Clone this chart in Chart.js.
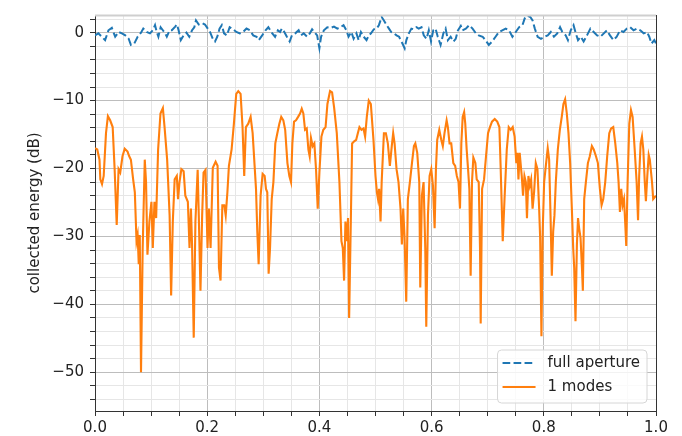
<!DOCTYPE html>
<html>
<head>
<meta charset="utf-8">
<script src="https://cdn.jsdelivr.net/npm/chart.js@4.4.1/dist/chart.umd.min.js"></script>
<style>
  body { margin: 0; background: #fff; }
  canvas { display: block; }
</style>
</head>
<body>
<canvas id="energyChart" width="682" height="436"></canvas>
<script>
// full aperture (dashed blue)
const blueX = [
  0.000, 0.006, 0.012, 0.018, 0.024, 0.030, 0.036, 0.042, 0.048, 0.054,
  0.060, 0.064, 0.070, 0.076, 0.082, 0.086, 0.092, 0.098, 0.103, 0.107,
  0.110, 0.113, 0.117, 0.121, 0.125, 0.128, 0.133, 0.137, 0.143, 0.146,
  0.149, 0.153, 0.158, 0.163, 0.168, 0.173, 0.177, 0.180, 0.185, 0.191,
  0.196, 0.201, 0.205, 0.210, 0.214, 0.218, 0.222, 0.226, 0.230, 0.235,
  0.240, 0.246, 0.252, 0.258, 0.264, 0.270, 0.276, 0.282, 0.288, 0.292,
  0.298, 0.304, 0.309, 0.316, 0.321, 0.326, 0.330, 0.333, 0.3375, 0.342,
  0.347, 0.351, 0.357, 0.363, 0.367, 0.372, 0.378, 0.383, 0.387, 0.391,
  0.396, 0.400, 0.403, 0.408, 0.414, 0.420, 0.426, 0.432, 0.4375, 0.443,
  0.448, 0.452, 0.457, 0.461, 0.466, 0.470, 0.474, 0.479, 0.484, 0.488,
  0.492, 0.497, 0.502, 0.506, 0.511, 0.515, 0.520, 0.524, 0.528, 0.533,
  0.5375, 0.542, 0.548, 0.552, 0.555, 0.5595, 0.564, 0.568, 0.573, 0.577,
  0.582, 0.586, 0.591, 0.595, 0.599, 0.603, 0.607, 0.611, 0.616, 0.621,
  0.625, 0.629, 0.634, 0.639, 0.643, 0.647, 0.652, 0.655, 0.661, 0.667,
  0.673, 0.679, 0.684, 0.691, 0.696, 0.702, 0.708, 0.714, 0.720, 0.726,
  0.732, 0.738, 0.744, 0.750, 0.756, 0.762, 0.766, 0.771, 0.776, 0.780,
  0.784, 0.789, 0.795, 0.801, 0.807, 0.8125, 0.818, 0.824, 0.829, 0.833,
  0.839, 0.843, 0.848, 0.853, 0.857, 0.861, 0.866, 0.871, 0.877, 0.883,
  0.889, 0.895, 0.901, 0.907, 0.9125, 0.918, 0.924, 0.930, 0.936, 0.942,
  0.948, 0.954, 0.960, 0.966, 0.972, 0.978, 0.984, 0.988, 0.992, 0.997,
  1.000,
];
const blueY = [
  -0.4, -0.1, -0.6, -1.1, 0.35, 0.7, -0.6, 0.1, -0.1, -0.4,
  -0.9, -1.8, -1.6, -0.6, 0.0, 0.6, 0.1, -0.1, 0.35, 1.1,
  0.1, -0.6, 0.8, 0.35, -0.1, -0.6, 0.35, 0.35, 0.9, 1.2,
  0.35, -1.1, -0.4, 0.0, -0.6, 0.35, 0.8, 1.8, 1.2, 1.4,
  1.2, 0.6, 0.1, -0.9, -1.3, -0.6, 0.6, 1.1, -0.1, -0.4,
  0.8, 0.5, 0.1, -0.1, 0.1, 0.6, 0.35, -0.4, -0.6, -1.1,
  -0.4, 0.35, 0.8, -0.1, -0.6, 0.35, 0.1, 0.6, 0.1, -0.6,
  -1.3, -0.4, -0.1, 0.35, -0.4, -0.1, -0.6, -0.1, 0.5, 0.1,
  -0.4, -2.3, -0.6, 0.35, 0.8, 0.7, 0.9, 0.6, 0.8, 1.1,
  0.35, -0.6, 0.1, -0.9, -0.1, -1.1, 0.1, -0.6, -1.1, -0.4,
  -0.1, 0.5, 0.6, 1.1, 2.3, 1.8, 1.1, 0.6, 0.1, -0.1,
  -0.4, -0.6, -1.6, -2.3, -1.1, -0.1, 0.6, 0.5, 0.8, 0.6,
  0.8, -0.4, -0.9, 0.35, -1.3, 0.35, 0.6, -0.6, -1.8, -0.1,
  0.6, -1.1, -0.6, -1.3, -0.9, 0.35, 1.0, 0.35, 0.6, 1.1,
  0.6, -0.1, -0.4, -0.6, -1.1, -1.8, -1.3, -0.6, 0.1, 0.35,
  0.6, 0.35, -0.6, 0.1, 0.8, 1.1, 2.1, 2.5, 2.3, 1.8,
  0.6, -0.6, -0.9, -0.6, -0.4, 0.1, -0.6, -0.1, 0.8, 0.1,
  -0.4, -1.1, 0.35, 1.1, -0.1, -1.1, -0.6, -1.3, -0.4, 0.6,
  0.1, -0.4, -0.6, -0.1, 0.35, -0.4, -1.1, -0.6, 0.35, 0.1,
  0.6, 0.8, 0.35, 0.6, 0.35, -0.1, 0.1, -0.6, -1.6, -1.1,
  -1.6,
];

// 1 modes (solid orange)
const orangeX = [
  0.000, 0.004, 0.008, 0.0095, 0.0125, 0.0155, 0.0196, 0.023, 0.027, 0.0315,
  0.035, 0.0387, 0.042, 0.045, 0.049, 0.053, 0.058, 0.061, 0.064, 0.068,
  0.071, 0.074, 0.076, 0.078, 0.0798, 0.082, 0.085, 0.0887, 0.091, 0.0935,
  0.097, 0.1006, 0.103, 0.106, 0.109, 0.1125, 0.1167, 0.121, 0.124, 0.1286,
  0.133, 0.1357, 0.1387, 0.142, 0.1458, 0.148, 0.1506, 0.154, 0.158, 0.161,
  0.1655, 0.1685, 0.171, 0.173, 0.176, 0.179, 0.183, 0.185, 0.188, 0.191,
  0.1935, 0.197, 0.2006, 0.203, 0.206, 0.210, 0.215, 0.2185, 0.221, 0.2238,
  0.227, 0.2304, 0.233, 0.236, 0.2387, 0.2435, 0.2476, 0.2518, 0.2554, 0.2595,
  0.263, 0.266, 0.269, 0.2732, 0.2774, 0.281, 0.2845, 0.287, 0.2893, 0.2917,
  0.2952, 0.2988, 0.3024, 0.3048, 0.3071, 0.3095, 0.312, 0.315, 0.318, 0.3214,
  0.325, 0.3286, 0.332, 0.3357, 0.339, 0.343, 0.3464, 0.3494, 0.3518, 0.3548,
  0.3583, 0.362, 0.3655, 0.3685, 0.3714, 0.3744, 0.3774, 0.3804, 0.3827, 0.385,
  0.388, 0.391, 0.394, 0.397, 0.400, 0.4036, 0.407, 0.411, 0.4143, 0.419,
  0.4226, 0.4262, 0.431, 0.4357, 0.4393, 0.4417, 0.444, 0.4464, 0.4488, 0.451,
  0.453, 0.456, 0.4583, 0.462, 0.4655, 0.4685, 0.4714, 0.475, 0.4786, 0.4815,
  0.4845, 0.488, 0.4917, 0.4964, 0.500, 0.5025, 0.5045, 0.5065, 0.509, 0.511,
  0.515, 0.5185, 0.522, 0.5256, 0.529, 0.5315, 0.534, 0.5375, 0.541, 0.5446,
  0.547, 0.5494, 0.5518, 0.5548, 0.5577, 0.5613, 0.565, 0.5685, 0.571, 0.5744,
  0.578, 0.5798, 0.5827, 0.5857, 0.5887, 0.5905, 0.5935, 0.5964, 0.5994, 0.6024,
  0.6054, 0.6077, 0.610, 0.6137, 0.6173, 0.620, 0.623, 0.6268, 0.629, 0.632,
  0.635, 0.6387, 0.642, 0.645, 0.648, 0.6506, 0.653, 0.6554, 0.658, 0.660,
  0.6625, 0.665, 0.6673, 0.6696, 0.672, 0.6744, 0.678, 0.6804, 0.684, 0.6863,
  0.6875, 0.690, 0.6935, 0.697, 0.7006, 0.704, 0.7077, 0.7125, 0.717, 0.7208,
  0.723, 0.7268, 0.730, 0.734, 0.7375, 0.741, 0.7446, 0.748, 0.751, 0.753,
  0.7548, 0.757, 0.7607, 0.763, 0.7655, 0.768, 0.770, 0.7726, 0.775, 0.7774,
  0.780, 0.7827, 0.7857, 0.7887, 0.7917, 0.7935, 0.7958, 0.798, 0.8006, 0.8036,
  0.807, 0.8095, 0.812, 0.8143, 0.8167, 0.819, 0.8214, 0.825, 0.8286, 0.832,
  0.835, 0.838, 0.841, 0.844, 0.847, 0.850, 0.8524, 0.8542, 0.8565, 0.859,
  0.861, 0.863, 0.8655, 0.868, 0.8696, 0.872, 0.875, 0.8786, 0.882, 0.8857,
  0.889, 0.893, 0.8964, 0.900, 0.903, 0.906, 0.9095, 0.913, 0.9167, 0.920,
  0.9238, 0.9274, 0.931, 0.9333, 0.9357, 0.938, 0.9405, 0.943, 0.945, 0.947,
  0.9494, 0.9524, 0.9554, 0.9583, 0.962, 0.9655, 0.968, 0.970, 0.9726, 0.975,
  0.9774, 0.980, 0.982, 0.9845, 0.987, 0.989, 0.9929, 0.995, 1.000,
];
const orangeY = [
  -17.0, -17.2, -18.7, -21.6, -22.3, -21.1, -14.8, -12.3, -12.9, -13.9,
  -20.1, -28.3, -20.1, -20.6, -18.2, -17.1, -17.5, -18.2, -18.7, -21.6,
  -23.5, -30.7, -29.8, -34.1, -29.8, -50.0, -31.7, -18.7, -22.0, -32.7,
  -27.8, -24.9, -31.7, -24.9, -27.3, -17.2, -11.9, -11.1, -13.9, -18.7,
  -26.9, -38.7, -27.8, -21.6, -21.1, -24.5, -22.0, -20.1, -20.4, -24.0,
  -24.9, -31.7, -25.9, -31.2, -44.9, -27.8, -20.2, -26.9, -38.0, -26.9,
  -20.6, -20.2, -31.7, -25.9, -31.7, -19.9, -19.0, -19.6, -34.6, -36.5,
  -25.4, -25.4, -26.9, -23.5, -19.6, -17.2, -13.4, -9.0, -8.6, -9.0,
  -13.9, -21.1, -13.9, -13.4, -12.4, -14.8, -19.6, -23.0, -29.3, -34.1,
  -24.0, -20.8, -21.1, -23.0, -23.5, -35.5, -31.7, -24.5, -22.0, -16.3,
  -14.8, -13.4, -12.4, -12.9, -14.3, -19.2, -21.1, -22.0, -16.3, -13.1,
  -12.9, -12.4, -11.9, -11.2, -11.9, -14.3, -14.1, -17.2, -18.2, -15.5,
  -16.7, -16.3, -20.1, -25.9, -20.6, -15.3, -14.3, -13.9, -10.5, -8.6,
  -8.8, -11.0, -14.8, -22.0, -30.7, -31.7, -36.5, -27.8, -30.7, -27.3,
  -42.0, -27.8, -16.3, -16.0, -15.8, -14.8, -13.9, -14.3, -14.1, -15.3,
  -12.4, -10.0, -10.5, -15.8, -21.1, -23.5, -24.5, -23.0, -27.8, -22.0,
  -14.8, -14.8, -16.3, -19.6, -16.7, -14.8, -16.3, -20.1, -22.0, -25.9,
  -31.2, -25.9, -30.2, -39.6, -24.5, -22.0, -19.2, -16.7, -16.3, -17.7,
  -22.0, -37.5, -24.0, -22.0, -31.7, -43.3, -26.9, -21.1, -20.1, -22.5,
  -28.8, -20.1, -15.8, -14.3, -15.8, -16.7, -14.8, -12.9, -13.9, -16.3,
  -16.3, -19.2, -19.6, -21.1, -22.0, -25.9, -16.3, -12.4, -11.7, -13.4,
  -17.2, -20.1, -23.0, -35.8, -22.0, -18.4, -19.2, -21.6, -22.0, -31.7,
  -42.8, -23.0, -21.6, -18.2, -14.8, -13.9, -13.1, -12.7, -13.1, -13.9,
  -19.6, -30.7, -24.5, -17.2, -13.9, -14.3, -13.9, -15.3, -19.2, -17.7,
  -21.6, -17.7, -21.1, -24.0, -21.1, -22.0, -27.3, -21.1, -22.5, -21.6,
  -25.9, -23.5, -19.2, -20.1, -25.9, -30.2, -44.7, -29.3, -22.0, -19.6,
  -17.0, -18.7, -26.9, -35.8, -29.3, -26.9, -22.0, -17.2, -14.3, -12.4,
  -10.5, -9.8, -11.9, -14.8, -19.2, -25.9, -31.7, -34.6, -42.5, -31.2,
  -27.3, -28.8, -30.2, -34.6, -38.0, -24.5, -22.0, -19.2, -18.2, -16.7,
  -17.2, -18.2, -19.2, -23.0, -25.4, -24.5, -22.0, -18.2, -14.8, -14.1,
  -13.9, -16.3, -19.2, -22.0, -26.4, -23.0, -25.4, -24.5, -27.8, -31.4,
  -22.0, -13.4, -11.4, -12.4, -17.2, -22.0, -27.6, -21.1, -16.3, -15.3,
  -17.2, -22.0, -24.8, -21.1, -18.0, -18.7, -22.0, -24.5, -24.0,
];

const xMin = 0, xMax = 1;
const yMin = -55.7, yMax = 2.6;

const majorGrid = "#bdbdbd";
const minorGrid = "#e6e6e6";
const axisColor = "#333";

Chart.defaults.font.family = '"DejaVu Sans", sans-serif';
Chart.defaults.font.size = 15;
Chart.defaults.color = "#222";

function isMultiple(v, step) {
  return Math.abs(v / step - Math.round(v / step)) < 1e-6;
}

function toPoints(xs, ys) {
  return xs.map((x, i) => ({ x: x, y: ys[i] }));
}

// legend box in the lower right corner of the plot
const cornerLegend = {
  id: "cornerLegend",
  afterDraw(chart) {
    const { ctx, chartArea } = chart;
    const sets = chart.data.datasets;
    ctx.save();
    ctx.font = '15px "DejaVu Sans", sans-serif';
    let textW = 0;
    sets.forEach((d) => {
      textW = Math.max(textW, ctx.measureText(d.label).width);
    });
    const w = 5 + 33 + 12 + textW + 7;
    const h = 53;
    const x0 = chartArea.right - 9 - w;
    const y0 = chartArea.bottom - 8 - h;
    ctx.beginPath();
    ctx.roundRect(x0, y0, w, h, 4);
    ctx.fillStyle = "rgba(255,255,255,0.8)";
    ctx.fill();
    ctx.strokeStyle = "#d6d6d6";
    ctx.lineWidth = 1;
    ctx.stroke();
    sets.forEach((d, i) => {
      const yy = y0 + 13 + i * 24;
      ctx.beginPath();
      ctx.setLineDash(d.borderDash || []);
      ctx.strokeStyle = d.borderColor;
      ctx.lineWidth = d.borderWidth;
      ctx.moveTo(x0 + 5, yy);
      ctx.lineTo(x0 + 38, yy);
      ctx.stroke();
      ctx.setLineDash([]);
      ctx.fillStyle = "#222";
      ctx.textBaseline = "middle";
      ctx.fillText(d.label, x0 + 50, yy);
    });
    // top edge of the axes box
    ctx.beginPath();
    ctx.strokeStyle = "#cfcfcf";
    ctx.moveTo(chartArea.left, chartArea.top + 0.5);
    ctx.lineTo(chartArea.right, chartArea.top + 0.5);
    ctx.stroke();
    ctx.restore();
  },
};

const energyChart = document.getElementById("energyChart");

new Chart(energyChart, {
  type: "scatter",
  data: {
    datasets: [
      {
        label: "full aperture",
        data: toPoints(blueX, blueY),
        showLine: true,
        borderColor: "#1f77b4",
        borderWidth: 2,
        borderDash: [7.7, 3.3],
        pointRadius: 0,
        tension: 0,
      },
      {
        label: "1 modes",
        data: toPoints(orangeX, orangeY),
        showLine: true,
        borderColor: "#ff7f0e",
        borderWidth: 2.1,
        pointRadius: 0,
        tension: 0,
      },
    ],
  },
  options: {
    responsive: false,
    animation: false,
    events: [],
    layout: {
      padding: { top: 12, right: 26, left: 0, bottom: 0 },
    },
    plugins: {
      legend: { display: false },
      tooltip: { enabled: false },
      title: { display: false },
    },
    scales: {
      x: {
        type: "linear",
        min: xMin,
        max: xMax,
        ticks: {
          stepSize: 0.05,
          autoSkip: false,
          maxRotation: 0,
          padding: 3,
          callback: (v) => (isMultiple(v, 0.2) ? v.toFixed(1) : ""),
        },
        grid: {
          color: (ctx) => {
            const v = ctx.tick ? ctx.tick.value : 0;
            if (isMultiple(v - xMax, 1) && v > 0.5) return axisColor;
            return isMultiple(v, 0.2) ? majorGrid : minorGrid;
          },
          tickColor: axisColor,
          tickLength: 5,
        },
        border: { color: axisColor, width: 1 },
        afterFit: (scale) => {
          scale.height = 25;
        },
      },
      y: {
        min: yMin,
        max: yMax,
        ticks: {
          stepSize: 2,
          includeBounds: false,
          autoSkip: false,
          padding: 6,
          callback: (v) => {
            if (v % 10 !== 0) return "";
            return v < 0 ? "\u2212" + Math.abs(v) : String(v);
          },
        },
        grid: {
          color: (ctx) => (ctx.tick && ctx.tick.value % 10 === 0 ? majorGrid : minorGrid),
          tickColor: axisColor,
          tickLength: 5,
        },
        border: { color: axisColor, width: 1 },
        title: {
          display: true,
          text: "collected energy (dB)",
          color: "#222",
          padding: { top: 26, bottom: 0 },
        },
        afterFit: (scale) => {
          scale.width = 95;
        },
      },
    },
  },
  plugins: [cornerLegend],
});
</script>
</body>
</html>
